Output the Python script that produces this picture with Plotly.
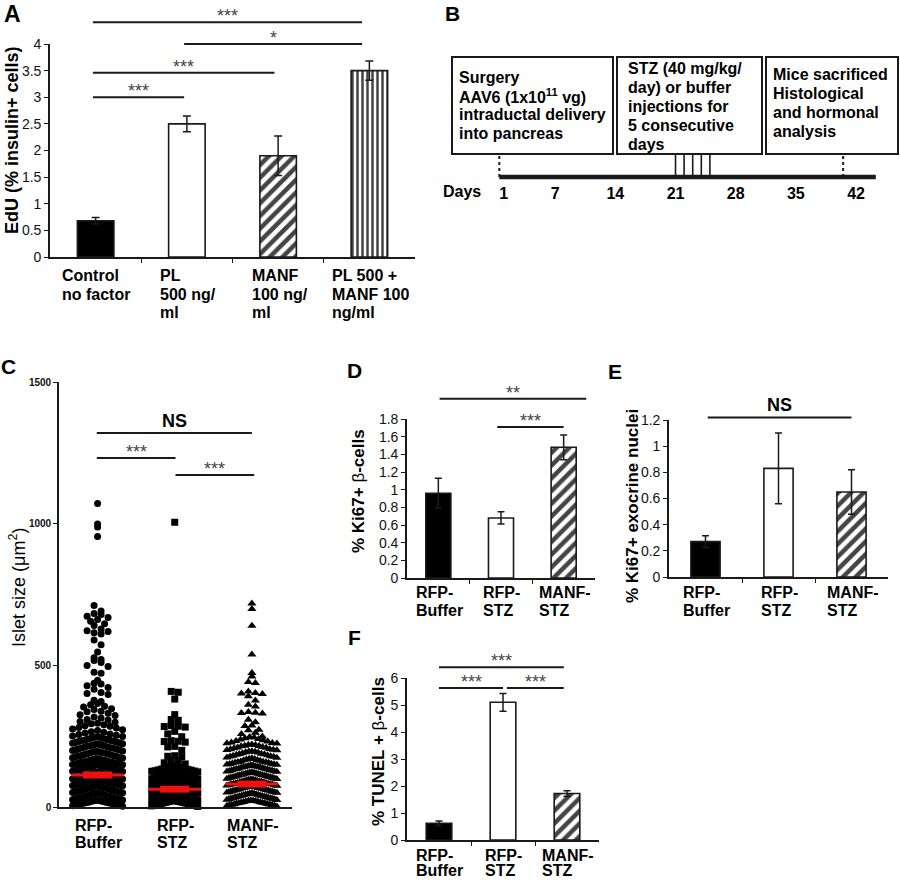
import plotly.graph_objects as go

W, H = 900, 880
FONT = "Liberation Sans, Arial, Helvetica, sans-serif"
INK = "#1a1a1a"

def fx(px):
    return px / W

def fy(py):
    return 1 - py / H

# ---------------- data ----------------
# Panel A
a_labels = ["Control\nno factor", "PL\n500 ng/\nml", "MANF\n100 ng/\nml", "PL 500 +\nMANF 100\nng/ml"]
a_values = [0.68, 2.50, 1.90, 3.50]
a_errors = [0.06, 0.15, 0.37, 0.18]
a_yticks = [0, 0.5, 1, 1.5, 2, 2.5, 3, 3.5, 4]
a_sig_x0 = [-0.03, -0.03, 0.97, -0.03]
a_sig_x1 = [0.97, 1.96, 2.92, 2.92]
a_sig_y = [3.0, 3.46, 4.0, 4.41]
a_sig_text = ["***", "***", "*", "***"]

# Panel B (timeline)
b_day_ticks = [1, 7, 14, 21, 28, 35, 42]
b_injection_days = [21, 22, 23, 24, 25]
b_surgery_day = 0.5
b_sacrifice_day = 40.5
b_timeline_end = 44.3
b_box1 = ["Surgery", "AAV6 (1x10<sup>11</sup> vg)", "intraductal delivery", "into pancreas"]
b_box2 = ["STZ (40 mg/kg/", "day) or buffer", "injections for", "5 consecutive", "days"]
b_box3 = ["Mice sacrificed", "Histological", "and hormonal", "analysis"]

# Shared group labels for C-F
group_labels = ["RFP-\nBuffer", "RFP-\nSTZ", "MANF-\nSTZ"]

# Panel C (islet sizes, one value per islet)
c_buffer = [
    1071, 999, 988, 955,
    711, 692, 683, 679, 673, 669, 662, 656, 647, 641, 628, 622, 619, 615, 611,
    589, 573, 547, 527, 521, 517, 510, 499, 496,
    476, 472, 447, 437, 434, 428, 422, 416, 404, 401, 397,
    377, 372, 365, 361, 356, 353, 347, 344, 338, 336, 331, 326, 323, 318, 314, 309, 307, 302,
    299, 296, 294, 290, 287, 285, 281, 279, 275, 273, 270, 266, 264, 261, 258, 256, 253, 251,
    249, 247, 245, 242, 240, 238, 235, 234, 231, 228, 226, 223, 221, 219, 216, 214, 211, 209,
    207, 204, 202, 199, 197, 195, 192, 190, 187, 185, 182, 180, 178, 175, 173, 170, 168,
    166, 165, 162, 160, 158, 155, 153, 151, 149, 147, 144, 142, 140, 138, 136, 133, 131, 129,
    127, 125, 122, 120, 118, 116, 114, 113, 111, 109, 107, 105, 102, 100, 98, 96, 94, 91, 89,
    87, 85, 83, 80, 78, 76, 74, 72, 69, 67, 65, 63, 61, 58, 56, 54, 52, 50, 47, 45, 43, 41,
    39, 36, 34, 32, 30, 28, 25, 23, 21, 19, 17, 14, 12, 10, 8, 6, 4,
    3, 5, 7, 9, 11, 13, 15, 16, 18, 20, 22, 24, 26, 27, 29, 31, 33, 35, 37, 38, 40, 42, 44,
    46, 48, 49, 51, 53, 55, 57, 59, 60, 62, 64, 66, 68, 70, 71, 73, 75, 77, 79, 81, 82, 84,
    86, 88, 90, 92, 93, 95, 97, 99, 101, 103, 104, 106, 108, 110, 112, 115, 117, 119, 121,
    123, 126, 128, 130, 132, 134, 137, 139, 141, 143, 146, 148, 150, 152, 154, 157, 159, 161,
    163, 167, 171, 174, 177, 181, 184, 188, 191, 194, 198, 201, 205, 208, 212, 215, 218, 222,
    225, 229, 232, 236, 239, 243, 246,
]
c_stz = [
    1005,
    408, 405, 381,
    326, 309, 306, 287, 285, 284, 282, 267, 258, 248, 234, 232, 231, 229, 214, 212, 200,
    181, 179, 177, 165, 163, 156, 152,
    148, 146, 143, 141, 138, 136, 133, 131, 128, 126, 124, 121, 119, 117, 114, 112, 110,
    107, 105, 103, 100, 98, 96, 93, 91, 89, 86, 84, 82, 79, 77, 75, 72, 70, 68, 65, 63, 61,
    58, 56, 54, 51, 49, 47, 44, 42, 40, 37, 35, 33, 30, 28, 26, 23, 21, 19, 16, 14, 12, 9, 7, 5,
    2, 4, 6, 8, 11, 13, 15, 17, 18, 20, 22, 25, 27, 29, 31, 32, 34, 36, 39, 41, 43, 45, 46,
    48, 50, 53, 55, 57, 59, 60, 62, 64, 67, 69, 71, 73, 74, 76, 78, 81, 83, 85, 87, 88, 90,
    92, 95, 97, 99, 101, 102, 104, 106, 109, 111, 113, 116, 118, 123, 127, 130, 134, 139,
]
c_manf = [
    718, 699, 640, 538, 473, 461, 441, 438, 408, 402, 401, 399, 391, 376, 361, 355,
    335, 333, 332, 330, 308, 299, 288, 286, 273, 271, 262, 258,
    249, 247, 245, 243, 240, 238, 236, 233, 231, 228, 226, 224, 221, 219, 216, 214, 212,
    209, 207, 204, 202, 200, 197, 195, 193,
    190, 188, 186, 184, 181, 179, 177, 175, 172, 170, 168, 166, 163, 161, 159, 157, 154,
    152, 150, 148, 145, 143, 141, 139, 136, 134, 132, 130, 127, 125, 123, 121, 118, 116,
    114, 112, 109, 107, 105, 103, 100, 98, 96, 94, 91, 89, 87, 85, 82, 80, 78, 76, 73, 71,
    69, 67, 64, 62, 60, 58, 55, 53, 51, 49, 46, 44, 42, 40, 37, 35, 33, 31, 28, 26, 24, 22,
    19, 17, 15, 13, 10, 8, 6, 4,
    2, 5, 7, 9, 11, 12, 14, 16, 18, 20, 21, 23, 25, 27, 29, 30, 32, 34, 36, 38, 39, 41, 43,
    45, 47, 48, 50, 52, 54, 56, 57, 59, 61, 63, 65, 66, 68, 70, 72, 74, 75, 77, 79, 81, 83,
    84, 86, 88, 90, 92, 93, 95, 97, 99, 101, 102, 104, 106, 108, 110, 111, 113, 115, 117,
    119, 120, 122, 124, 126, 129, 131, 133, 135, 138, 140, 142, 144, 147, 149, 151, 153,
    156, 158, 160, 165, 169, 174, 178, 183, 187, 192, 196, 201, 205, 210, 215, 220, 225,
]
c_medians = [113, 63, 81]
c_yticks = [0, 500, 1000, 1500]
c_sig_x0 = [-0.01, -0.01, 1.01]
c_sig_x1 = [2.0, 1.01, 2.03]
c_sig_y = [1320, 1232, 1172]
c_sig_text = ["NS", "***", "***"]

# Panel D
d_values = [0.96, 0.68, 1.48]
d_errors = [0.17, 0.07, 0.14]
d_yticks = [0, 0.2, 0.4, 0.6, 0.8, 1, 1.2, 1.4, 1.6, 1.8]
d_sig_x0 = [0.02, 0.94]
d_sig_x1 = [2.36, 2.0]
d_sig_y = [2.03, 1.71]
d_sig_text = ["**", "***"]

# Panel E
e_values = [0.27, 0.83, 0.65]
e_errors = [0.045, 0.27, 0.17]
e_yticks = [0, 0.2, 0.4, 0.6, 0.8, 1, 1.2]
e_sig_x0 = [0.03]
e_sig_x1 = [2.0]
e_sig_y = [1.22]
e_sig_text = ["NS"]

# Panel F
f_values = [0.62, 5.10, 1.72]
f_errors = [0.08, 0.33, 0.10]
f_yticks = [0, 1, 2, 3, 4, 5, 6]
f_sig_x0 = [0.0, 0.0, 1.06]
f_sig_x1 = [1.95, 1.0, 1.95]
f_sig_y = [6.4, 5.63, 5.63]
f_sig_text = ["***", "***", "***"]

# ---------------- helpers ----------------
AB = {  # Arial Bold advance widths (per 1000 em)
    "A": 722, "B": 722, "C": 722, "D": 722, "E": 667, "F": 611, "L": 611, "M": 833, "N": 722,
    "P": 667, "R": 722, "S": 667, "T": 611, "U": 722, "Z": 611, "a": 556, "b": 611, "c": 556,
    "d": 611, "e": 556, "f": 333, "g": 611, "i": 278, "l": 278, "m": 889, "n": 611, "o": 611,
    "r": 389, "s": 556, "t": 333, "u": 611, "y": 556, "v": 556, " ": 278, "-": 333, "/": 278,
    "+": 584, ".": 278,
}
for dgt in "0123456789":
    AB[dgt] = 556


def text_w(s, size):
    return sum(AB.get(ch, 600) for ch in s) * size / 1000.0


fig = go.Figure()


def base_axis(**kw):
    d = dict(showline=True, linewidth=1.6, linecolor=INK, ticks="outside", ticklen=4,
             tickwidth=1.3, tickcolor=INK, showgrid=False, zeroline=False, fixedrange=True,
             automargin=False)
    d.update(kw)
    return d


def bar_axes(n, xd, yd, yr, yticks, tsize=14):
    xa = base_axis(domain=[fx(xd[0]), fx(xd[1])], range=[-0.5, n - 0.5],
                   tickvals=[i + 0.5 for i in range(n - 1)], showticklabels=False)
    ya = base_axis(domain=[fy(yd[0]), fy(yd[1])], range=yr, tickvals=yticks,
                   ticktext=[f"{v:g}" for v in yticks],
                   tickfont=dict(family=FONT, size=tsize, color="#111"))
    return xa, ya


def add_bars(xa, ya, vals, errs, colors, shapes, psizes, cap):
    fig.add_trace(go.Bar(
        x=list(range(len(vals))), y=vals, width=0.4, xaxis=xa, yaxis=ya,
        marker=dict(color=colors, line=dict(color=INK, width=1.6),
                    pattern=dict(shape=shapes, fgcolor="black", fgopacity=1,
                                 size=psizes, solidity=0.5)),
        error_y=dict(type="data", array=errs, color=INK, thickness=1.5, width=cap),
        hoverinfo="skip"))


def add_sig(xa, ya, ymax, x0s, x1s, ys, texts):
    for x0, x1, yv, t in zip(x0s, x1s, ys, texts):
        yd = yv / ymax
        fig.add_shape(type="line", xref=xa, yref=ya + " domain", x0=x0, x1=x1, y0=yd, y1=yd,
                      line=dict(color=INK, width=2))
        if t == "NS":
            txt, fnt, ysh = "<b>NS</b>", dict(family=FONT, size=18, color="black"), 1
        else:
            txt, fnt, ysh = t, dict(family=FONT, size=18, color="#444"), -5
        fig.add_annotation(xref=xa, yref=ya + " domain", x=(x0 + x1) / 2, y=yd, text=txt,
                           showarrow=False, yanchor="bottom", yshift=ysh, font=fnt, borderpad=0)


def add_cat_labels(xa, ya, labels, size, first_dy, spacing):
    for i, lab in enumerate(labels):
        lines = lab.split("\n")
        bw = max(text_w(l, size) for l in lines)
        for j, line in enumerate(lines):
            fig.add_annotation(xref=xa, yref=ya + " domain", x=i, y=0, xanchor="left",
                               yanchor="middle", xshift=-bw / 2, yshift=-(first_dy + j * spacing),
                               text=f"<b>{line}</b>", showarrow=False, borderpad=0,
                               font=dict(family=FONT, size=size, color="black"))


def add_ytitle(px_x, px_y, text, size):
    fig.add_annotation(xref="paper", yref="paper", x=fx(px_x), y=fy(px_y), text=text,
                       textangle=-90, showarrow=False, xanchor="center", yanchor="middle",
                       font=dict(family=FONT, size=size, color="black"))


def add_letter(px_x, px_top, letter, size=22):
    fig.add_annotation(xref="paper", yref="paper", x=fx(px_x), y=fy(px_top),
                       text=f"<b>{letter}</b>", showarrow=False, xanchor="left",
                       yanchor="top", borderpad=0,
                       font=dict(family=FONT, size=size, color="black"))


def swarm(values, center, half_w_px, d_px, ypx_per_unit, xpx_per_unit):
    binh = d_px / ypx_per_unit
    bins = {}
    for v in values:
        bins.setdefault(int(v // binh), []).append(v)
    xs, ys = [], []
    for b in sorted(bins):
        vals = sorted(bins[b], reverse=True)
        n = len(vals)
        sp = d_px if n <= 1 else min(d_px, 2 * half_w_px / (n - 1))
        offs = [(i - (n - 1) / 2) * sp for i in range(n)]
        offs.sort(key=lambda o: (abs(o), o))
        for v, o in zip(vals, offs):
            xs.append(center + o / xpx_per_unit)
            ys.append(v)
    return xs, ys


# ---------------- Panel A ----------------
xa, ya = bar_axes(4, (50, 415), (257, 44), [0, 4], a_yticks)
fig.update_layout(xaxis=dict(xa, anchor="y"), yaxis=dict(ya, anchor="x"))
add_bars("x", "y", a_values, a_errors, ["black", "white", "white", "white"],
         ["", "", "/", "|"], [9, 9, 9, 5], 4)
add_sig("x", "y", 4, a_sig_x0, a_sig_x1, a_sig_y, a_sig_text)
add_cat_labels("x", "y", a_labels, 16, 19, 18.5)
add_ytitle(12, 140, "<b>EdU (% insulin+ cells)</b>", 18)
add_letter(3, 0, "A", 23)

# ---------------- Panel B ----------------
fig.update_layout(
    xaxis2=dict(domain=[fx(440), fx(899)], range=[-6.4, 47.0], anchor="y2", showline=False,
                ticks="", showgrid=False, zeroline=False, tickvals=b_day_ticks,
                ticktext=[f"<b>{d}</b>" for d in b_day_ticks], fixedrange=True,
                automargin=False, tickfont=dict(family=FONT, size=16, color="black")),
    yaxis2=dict(domain=[fy(182), fy(150)], range=[-0.217, 1.174], anchor="x2", visible=False,
                fixedrange=True),
)
fig.add_trace(go.Scatter(x=[b_surgery_day, b_timeline_end], y=[0, 0], mode="lines",
                         line=dict(color=INK, width=4.5), xaxis="x2", yaxis="y2",
                         hoverinfo="skip"))
inj_x, inj_y = [], []
for d in b_injection_days:
    inj_x += [d, d, None]
    inj_y += [0, 1, None]
fig.add_trace(go.Scatter(x=inj_x, y=inj_y, mode="lines", line=dict(color=INK, width=1.6),
                         xaxis="x2", yaxis="y2", hoverinfo="skip"))
fig.add_trace(go.Scatter(x=[b_surgery_day, b_surgery_day, None, b_sacrifice_day, b_sacrifice_day],
                         y=[0, 1, None, 0, 1], mode="lines",
                         line=dict(color=INK, width=2, dash="dot"),
                         xaxis="x2", yaxis="y2", hoverinfo="skip"))
for (x0, x1) in [(452, 613), (617, 762), (766, 898)]:
    fig.add_shape(type="rect", xref="paper", yref="paper", x0=fx(x0), x1=fx(x1),
                  y0=fy(154), y1=fy(57), line=dict(color=INK, width=2), fillcolor="white")
for lines, left, top, sp in [(b_box1, 458, 77, 18.7), (b_box2, 627, 69, 18.9),
                             (b_box3, 772, 75, 18.7)]:
    for j, line in enumerate(lines):
        fig.add_annotation(xref="paper", yref="paper", x=fx(left), y=fy(top + j * sp),
                           xanchor="left", yanchor="middle", text=f"<b>{line}</b>",
                           showarrow=False, borderpad=0,
                           font=dict(family=FONT, size=16, color="black"))
fig.add_annotation(xref="paper", yref="paper", x=fx(462), y=fy(192), text="<b>Days</b>",
                   showarrow=False, xanchor="center", yanchor="middle",
                   font=dict(family=FONT, size=16, color="black"))
add_letter(444, 1, "B", 21)

# ---------------- Panel C ----------------
c_xpx = 77.15
c_ypx = 425 / 1500
fig.update_layout(
    xaxis3=base_axis(domain=[fx(59), fx(292)], range=[-0.5, 2.52], anchor="y3", ticks="",
                     showticklabels=False),
    yaxis3=base_axis(domain=[fy(807), fy(382)], range=[0, 1500], anchor="x3",
                     tickvals=c_yticks, ticktext=[f"<b>{v}</b>" for v in c_yticks],
                     tickfont=dict(family=FONT, size=10, color="#111")),
)
for i, (vals, sym, sz, hw) in enumerate([(c_buffer, "circle", 7, 25),
                                          (c_stz, "square", 7, 23),
                                          (c_manf, "triangle-up", 8, 25)]):
    xs, ys = swarm(vals, i, hw, 7, c_ypx, c_xpx)
    fig.add_trace(go.Scatter(x=xs, y=ys, mode="markers", xaxis="x3", yaxis="y3",
                             marker=dict(symbol=sym, size=sz, color="black", line=dict(width=0)),
                             cliponaxis=False, hoverinfo="skip"))
for i, m in enumerate(c_medians):
    fig.add_trace(go.Scatter(x=[i - 0.34, i + 0.34], y=[m, m], mode="lines", xaxis="x3",
                             yaxis="y3", line=dict(color="#ee1111", width=3), hoverinfo="skip"))
    fig.add_trace(go.Scatter(x=[i - 0.19, i + 0.19], y=[m, m], mode="lines", xaxis="x3",
                             yaxis="y3", line=dict(color="#ee1111", width=7), hoverinfo="skip"))
add_sig("x3", "y3", 1500, c_sig_x0, c_sig_x1, c_sig_y, c_sig_text)
add_cat_labels("x3", "y3", group_labels, 16, 18, 17)
add_ytitle(17, 588, "Islet size (μm<sup>2</sup>)", 18)
add_letter(0, 354, "C", 21)

# ---------------- Panel D ----------------
xa, ya = bar_axes(3, (407, 595), (578, 419), [0, 1.8], d_yticks)
fig.update_layout(xaxis4=dict(xa, anchor="y4"), yaxis4=dict(ya, anchor="x4"))
add_bars("x4", "y4", d_values, d_errors, ["black", "white", "white"], ["", "", "/"],
         [9, 9, 9], 3.5)
add_sig("x4", "y4", 1.8, d_sig_x0, d_sig_x1, d_sig_y, d_sig_text)
add_cat_labels("x4", "y4", group_labels, 16, 14, 18)
add_ytitle(358, 491, "<b>% Ki67+ </b>β<b>-cells</b>", 17)
add_letter(346, 358, "D", 21)

# ---------------- Panel E ----------------
xa, ya = bar_axes(3, (669, 888), (577, 420), [0, 1.2], e_yticks)
fig.update_layout(xaxis5=dict(xa, anchor="y5"), yaxis5=dict(ya, anchor="x5"))
add_bars("x5", "y5", e_values, e_errors, ["black", "white", "white"], ["", "", "/"],
         [9, 9, 9], 3.5)
add_sig("x5", "y5", 1.2, e_sig_x0, e_sig_x1, e_sig_y, e_sig_text)
add_cat_labels("x5", "y5", group_labels, 16, 15, 18)
add_ytitle(633, 506, "<b>% Ki67+ exocrine nuclei</b>", 17)
add_letter(607, 359, "E", 21)

# ---------------- Panel F ----------------
xa, ya = bar_axes(3, (407, 599), (840, 678), [0, 6], f_yticks)
fig.update_layout(xaxis6=dict(xa, anchor="y6"), yaxis6=dict(ya, anchor="x6"))
add_bars("x6", "y6", f_values, f_errors, ["black", "white", "white"], ["", "", "/"],
         [9, 9, 9], 3.5)
add_sig("x6", "y6", 6, f_sig_x0, f_sig_x1, f_sig_y, f_sig_text)
add_cat_labels("x6", "y6", group_labels, 16, 15, 15.5)
add_ytitle(378, 752, "<b>% TUNEL + </b>β<b>-cells</b>", 17)
add_letter(347, 625, "F", 21)

fig.update_layout(width=W, height=H,
                  margin=dict(l=0, r=0, t=0, b=0, pad=0, autoexpand=False),
                  paper_bgcolor="white", plot_bgcolor="white", showlegend=False,
                  bargap=0.6, font=dict(family=FONT, color="black"))

fig.write_html("out.html", config={"displayModeBar": False},
               post_script="document.body.style.margin='0px';")
